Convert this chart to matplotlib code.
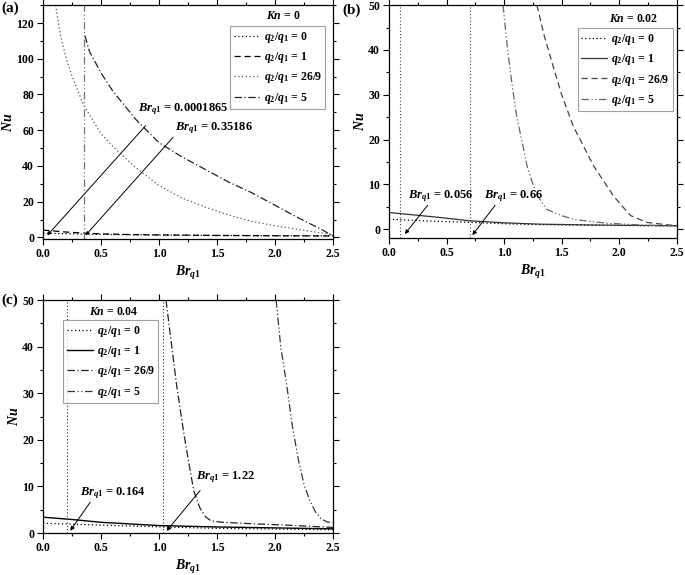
import matplotlib
matplotlib.use('Agg')
import matplotlib.pyplot as plt
from matplotlib.ticker import MultipleLocator, FormatStrFormatter

plt.rcParams['font.family'] = 'Liberation Serif'
plt.rcParams['font.weight'] = 'bold'
plt.rcParams['mathtext.fontset'] = 'custom'
plt.rcParams['mathtext.it'] = 'Liberation Serif:italic:bold'
plt.rcParams['mathtext.rm'] = 'Liberation Serif:bold'
plt.rcParams['mathtext.bf'] = 'Liberation Serif:bold'

# ---- data ----
# (a) Kn = 0
a_br0 = [0.0, 0.25, 0.5, 0.75, 1.0, 1.5, 2.0, 2.5]
a_nu0 = [2.4, 2.0, 1.7, 1.5, 1.3, 1.1, 1.0, 0.9]
a_br1 = [0.0, 0.2, 0.35, 0.5, 0.75, 1.0, 1.5, 2.0, 2.5]
a_nu1 = [4.1, 3.0, 2.4, 2.0, 1.6, 1.4, 1.1, 0.9, 0.8]
a_br26 = [0.107, 0.15, 0.2, 0.25, 0.35, 0.5, 0.6, 0.8, 1.0, 1.2, 1.4, 1.6, 1.8, 2.0, 2.25, 2.5]
a_nu26 = [130, 113, 100, 90, 74, 58, 51, 39, 29, 22, 17, 12.5, 9, 6.5, 4, 1.5]
a_br5 = [0.36, 0.4, 0.5, 0.6, 0.8, 1.0, 1.2, 1.4, 1.6, 1.8, 2.0, 2.2, 2.4, 2.5]
a_nu5 = [113, 104, 92, 82, 66, 53, 45, 38, 31, 25, 18, 11, 4.5, 0.8]
a_asym = [0.0002, 0.352]

# (b) Kn = 0.02
b_br0 = [0.0, 0.35, 0.7, 1.0, 1.3, 1.8, 2.5]
b_nu0 = [2.2, 1.8, 1.5, 1.2, 1.0, 0.85, 0.7]
b_br1 = [0.0, 0.2, 0.44, 0.7, 1.0, 1.31, 1.8, 2.5]
b_nu1 = [3.7, 3.2, 2.6, 1.85, 1.4, 1.1, 0.9, 0.75]
b_br26 = [1.285, 1.35, 1.43, 1.5, 1.6, 1.7, 1.78, 1.87, 1.95, 2.03, 2.1, 2.24, 2.4, 2.5]
b_nu26 = [50, 43, 36, 30, 23, 18, 14, 10.5, 7.4, 5, 3, 1.5, 1.0, 0.8]
b_br5 = [0.99, 1.03, 1.07, 1.11, 1.16, 1.2, 1.25, 1.29, 1.37, 1.5, 1.6, 1.75, 1.9, 2.2, 2.5]
b_nu5 = [50, 40, 32, 25, 19, 14, 10, 7.4, 4.4, 3.0, 2.2, 1.7, 1.3, 0.9, 0.7]
b_asym = [0.095, 0.70]

# (c) Kn = 0.04
c_br0 = [0.0, 0.5, 1.03, 1.5, 2.0, 2.5]
c_nu0 = [2.1, 1.7, 1.3, 1.0, 0.85, 0.7]
c_br1 = [0.0, 0.25, 0.5, 1.0, 1.5, 2.0, 2.5]
c_nu1 = [3.4, 2.9, 2.3, 1.6, 1.3, 1.1, 0.9]
c_br26 = [1.06, 1.10, 1.15, 1.21, 1.25, 1.30, 1.35, 1.40, 1.45, 1.55, 1.8, 2.1, 2.5]
c_nu26 = [50, 42, 32, 22, 16, 9, 5.5, 3.5, 2.6, 2.3, 2.0, 1.7, 1.2]
c_br5 = [2.01, 2.05, 2.10, 2.15, 2.20, 2.25, 2.30, 2.35, 2.40, 2.45, 2.5]
c_nu5 = [50, 40, 32, 23, 16, 10.5, 7, 4.5, 3, 2.4, 2.2]
c_asym = [0.207, 1.03]

labels = [r'$q_2/q_1$ = 0', r'$q_2/q_1$ = 1', r'$q_2/q_1$ = 26/9', r'$q_2/q_1$ = 5']

DOT = (0, (1, 2))
DASH = (0, (5, 3))
DASHDOT = (0, (6, 2, 1, 2))
DASHDOTDOT = (0, (6, 2, 1, 2, 1, 2))

fig = plt.figure(figsize=(6.85, 5.75), dpi=100)
fig.patch.set_facecolor('white')


def style_axes(ax, ylim, ymaj, ymin):
    ax.set_xlim(0, 2.5)
    ax.set_ylim(*ylim)
    ax.xaxis.set_major_locator(MultipleLocator(0.5))
    ax.xaxis.set_minor_locator(MultipleLocator(0.25))
    ax.yaxis.set_major_locator(MultipleLocator(ymaj))
    ax.yaxis.set_minor_locator(MultipleLocator(ymin))
    ax.tick_params(which='both', direction='out', top=True, right=True, labelsize=8.5, pad=2.5)
    ax.tick_params(which='major', length=4, width=0.8)
    ax.tick_params(which='minor', length=2.5, width=0.8)
    ax.xaxis.set_major_formatter(FormatStrFormatter('%.1f'))
    for s in ax.spines.values():
        s.set_linewidth(0.9)
    ax.set_xlabel(r'$Br_{q1}$', fontsize=10, labelpad=3)
    ax.set_ylabel(r'$Nu$', fontsize=10, labelpad=1)


def add_legend(ax, handles, title, loc, title_xy):
    leg = ax.legend(handles, labels, loc='upper left', bbox_to_anchor=loc,
                    fontsize=8.5, frameon=True, fancybox=False, edgecolor='#888888',
                    handlelength=2.2, labelspacing=0.45, borderpad=0.3, handletextpad=0.35,
                    borderaxespad=0)
    leg.get_frame().set_linewidth(0.8)
    ax.text(title_xy[0], title_xy[1], title, transform=ax.transAxes, fontsize=8.5,
            ha='center', va='center')


# ---- (a) ----
ax = fig.add_axes([0.063, 0.584, 0.423, 0.407])
h0, = ax.plot(a_br0, a_nu0, color='black', ls=DOT, lw=0.9)
h1, = ax.plot(a_br1, a_nu1, color='black', ls=DASH, lw=0.9)
h26, = ax.plot(a_br26, a_nu26, color='#555555', ls=DOT, lw=0.9)
h5, = ax.plot(a_br5, a_nu5, color='#222222', ls=DASHDOT, lw=0.9)
ax.axvline(a_asym[0], color='#777777', ls=DOT, lw=0.9)
ax.axvline(a_asym[1], color='#777777', ls=DASHDOTDOT, lw=0.9)
style_axes(ax, (-1, 130), 20, 10)
add_legend(ax, [h0, h1, h26, h5], r'$Kn$ = 0', (0.645, 0.91), (0.83, 0.955))
ax.annotate('', xy=(0.02, 0), xytext=(0.90, 63.7),
            arrowprops=dict(arrowstyle='-|>', lw=0.7, color='black', mutation_scale=5))
ax.annotate('', xy=(0.35, 0), xytext=(1.137, 57.2),
            arrowprops=dict(arrowstyle='-|>', lw=0.7, color='black', mutation_scale=5))
ax.text(0.82, 72, r'$Br_{q1}$ = 0.0001865', fontsize=9, va='center')
ax.text(1.137, 61, r'$Br_{q1}$ = 0.35186', fontsize=9, va='center')
fig.text(0.002, 0.985, '(a)', fontsize=11, va='center')

# ---- (b) ----
ax = fig.add_axes([0.568, 0.586, 0.420, 0.405])
h0, = ax.plot(b_br0, b_nu0, color='black', ls=DOT, lw=0.9)
h1, = ax.plot(b_br1, b_nu1, color='#333333', ls='-', lw=0.9)
h26, = ax.plot(b_br26, b_nu26, color='#444444', ls=DASH, lw=0.9)
h5, = ax.plot(b_br5, b_nu5, color='#666666', ls=DASHDOTDOT, lw=0.9)
for xa in b_asym:
    ax.axvline(xa, color='#444444', ls=DOT, lw=0.8)
style_axes(ax, (-2, 50), 10, 5)
add_legend(ax, [h0, h1, h26, h5], r'$Kn$ = 0.02', (0.655, 0.90), (0.85, 0.94))
ax.annotate('', xy=(0.122, -1.6), xytext=(0.35, 5.8),
            arrowprops=dict(arrowstyle='-|>', lw=0.7, color='black', mutation_scale=6))
ax.annotate('', xy=(0.709, -1.85), xytext=(0.936, 5.8),
            arrowprops=dict(arrowstyle='-|>', lw=0.7, color='black', mutation_scale=6))
ax.text(0.166, 7.3, r'$Br_{q1}$ = 0.056', fontsize=9, va='center')
ax.text(0.826, 7.3, r'$Br_{q1}$ = 0.66', fontsize=9, va='center')
fig.text(0.500, 0.983, '(b)', fontsize=11, va='center')

# ---- (c) ----
ax = fig.add_axes([0.063, 0.073, 0.423, 0.405])
h0, = ax.plot(c_br0, c_nu0, color='black', ls=DOT, lw=0.9)
h1, = ax.plot(c_br1, c_nu1, color='black', ls='-', lw=1.0)
h26, = ax.plot(c_br26, c_nu26, color='#222222', ls=DASHDOT, lw=0.9)
h5, = ax.plot(c_br5, c_nu5, color='#333333', ls=DASHDOTDOT, lw=0.9)
for xa in c_asym:
    ax.axvline(xa, color='#333333', ls=DOT, lw=0.8)
style_axes(ax, (0, 50), 10, 5)
add_legend(ax, [h0, h1, h26, h5], r'$Kn$ = 0.04', (0.069, 0.914), (0.245, 0.95))
ax.annotate('', xy=(0.22, 0), xytext=(0.42, 7.1),
            arrowprops=dict(arrowstyle='-|>', lw=0.7, color='black', mutation_scale=6))
ax.annotate('', xy=(1.05, 0), xytext=(1.37, 9.6),
            arrowprops=dict(arrowstyle='-|>', lw=0.7, color='black', mutation_scale=6))
ax.text(0.32, 8.6, r'$Br_{q1}$ = 0.164', fontsize=9, va='center')
ax.text(1.32, 12.1, r'$Br_{q1}$ = 1.22', fontsize=9, va='center')
fig.text(0.002, 0.478, '(c)', fontsize=11, va='center')

fig.savefig('out.png', dpi=100, facecolor='white')
